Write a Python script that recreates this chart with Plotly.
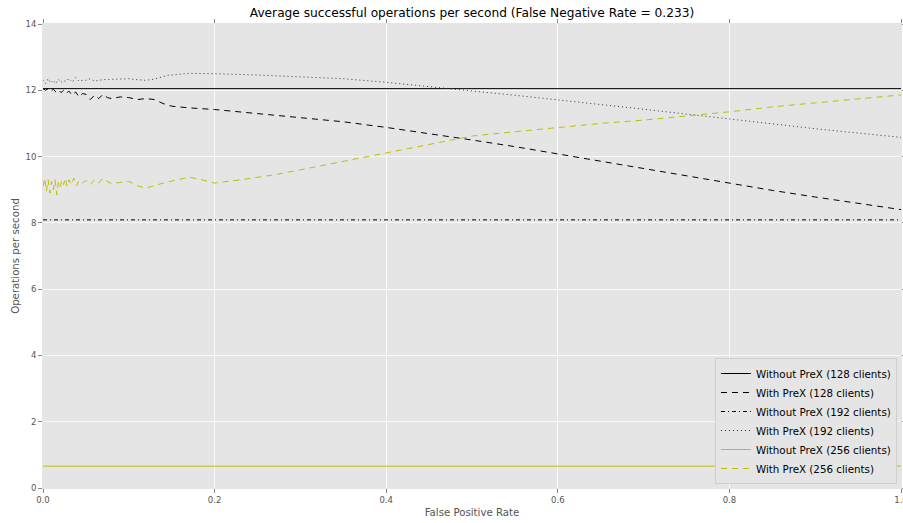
import plotly.graph_objects as go

title = "Average successful operations per second (False Negative Rate = 0.233)"

# Without PreX (constant levels)
x_const = [0.0, 1.0]
wo_128 = [12.05, 12.05]
wo_192 = [8.09, 8.09]
wo_256 = [0.66, 0.66]

# With PreX (128 clients)
x_p128 = [0.0, 0.003, 0.006, 0.009, 0.012, 0.015, 0.018, 0.021, 0.024, 0.027, 0.030, 0.034,
          0.038, 0.042, 0.046, 0.05, 0.055, 0.06, 0.065, 0.07, 0.075, 0.08, 0.09, 0.1, 0.11,
          0.12, 0.13, 0.14, 0.15, 0.17, 0.2, 0.25, 0.3, 0.35, 0.4, 0.45, 0.5, 0.55, 0.6, 0.65,
          0.7, 0.75, 0.8, 0.85, 0.9, 0.95, 1.0]
y_p128 = [12.05, 12.0, 12.05, 11.97, 12.03, 11.95, 12.02, 11.93, 12.0, 11.9, 11.98, 11.85,
          11.95, 11.8, 11.9, 11.88, 11.72, 11.85, 11.75, 11.88, 11.78, 11.75, 11.8, 11.78, 11.72,
          11.75, 11.72, 11.6, 11.52, 11.47, 11.42, 11.3, 11.18, 11.05, 10.88, 10.7, 10.5, 10.3,
          10.08, 9.85, 9.62, 9.42, 9.2, 8.98, 8.78, 8.58, 8.4]

# With PreX (192 clients)
x_p192 = [0.0, 0.003, 0.006, 0.009, 0.012, 0.015, 0.018, 0.021, 0.024, 0.027, 0.030, 0.034,
          0.038, 0.042, 0.046, 0.05, 0.055, 0.06, 0.07, 0.08, 0.09, 0.1, 0.11, 0.12, 0.13,
          0.145, 0.17, 0.2, 0.25, 0.3, 0.35, 0.4, 0.45, 0.5, 0.55, 0.6, 0.65, 0.7, 0.75, 0.8,
          0.85, 0.9, 0.95, 1.0]
y_p192 = [12.3, 12.2, 12.35, 12.22, 12.3, 12.2, 12.33, 12.24, 12.3, 12.26, 12.36, 12.25,
          12.38, 12.27, 12.3, 12.3, 12.35, 12.28, 12.32, 12.33, 12.36, 12.35, 12.32, 12.3, 12.34,
          12.45, 12.51, 12.5, 12.46, 12.41, 12.35, 12.24, 12.1, 11.98, 11.85, 11.72, 11.57,
          11.43, 11.28, 11.14, 10.99, 10.84, 10.71, 10.58]

# With PreX (256 clients)
x_p256 = [0.0, 0.002, 0.004, 0.006, 0.008, 0.010, 0.012, 0.014, 0.016, 0.018, 0.020, 0.022,
          0.024, 0.026, 0.028, 0.030, 0.033, 0.036, 0.039, 0.042, 0.046, 0.05, 0.055, 0.06,
          0.065, 0.07, 0.075, 0.08, 0.09, 0.1, 0.11, 0.12, 0.14, 0.155, 0.17, 0.185, 0.2,
          0.23, 0.27, 0.3, 0.33, 0.36, 0.4, 0.45, 0.5, 0.55, 0.6, 0.65, 0.7, 0.75, 0.8, 0.85,
          0.9, 0.95, 1.0]
y_p256 = [9.1, 9.35, 8.95, 9.3, 8.9, 9.25, 9.0, 9.3, 8.85, 9.25, 9.1, 9.3, 9.15, 9.35, 9.1,
          9.3, 9.15, 9.35, 9.12, 9.28, 9.2, 9.28, 9.15, 9.3, 9.2, 9.35, 9.25, 9.18, 9.22, 9.25,
          9.12, 9.05, 9.2, 9.3, 9.38, 9.3, 9.2, 9.3, 9.45, 9.6, 9.75, 9.9, 10.12, 10.35, 10.62,
          10.75, 10.88, 11.0, 11.1, 11.22, 11.35, 11.5, 11.62, 11.73, 11.86]

BLACK = "#000000"
YELLOW = "#bfbf00"

fig = go.Figure()
fig.add_trace(go.Scatter(x=x_const, y=wo_128, mode="lines", name="Without PreX (128 clients)",
                         line=dict(color=BLACK, width=1)))
fig.add_trace(go.Scatter(x=x_p128, y=y_p128, mode="lines", name="With PreX (128 clients)",
                         line=dict(color=BLACK, width=1, dash="6px,5px")))
fig.add_trace(go.Scatter(x=x_const, y=wo_192, mode="lines", name="Without PreX (192 clients)",
                         line=dict(color=BLACK, width=1, dash="4px,3px,1px,3px")))
fig.add_trace(go.Scatter(x=x_p192, y=y_p192, mode="lines", name="With PreX (192 clients)",
                         line=dict(color="#333333", width=1, dash="1px,3px")))
fig.add_trace(go.Scatter(x=x_const, y=wo_256, mode="lines", name="Without PreX (256 clients)",
                         line=dict(color=YELLOW, width=1)))
fig.add_trace(go.Scatter(x=x_p256, y=y_p256, mode="lines", name="With PreX (256 clients)",
                         line=dict(color=YELLOW, width=1, dash="6px,5px")))

axis_common = dict(
    showgrid=True, gridcolor="rgba(255,255,255,0.75)", gridwidth=0.8, zeroline=False,
    ticks="outside", ticklen=4, tickcolor="#888888", tickwidth=1,
    showline=True, linecolor="#E5E5E5", linewidth=1, mirror="ticks",
    tickfont=dict(family="DejaVu Sans", size=8.5, color="#555555"),
    automargin=False, ticklabeloverflow="allow",
)

fig.update_layout(
    width=903, height=523,
    margin=dict(l=43, r=2, t=24, b=35),
    paper_bgcolor="white", plot_bgcolor="#E5E5E5",
    font=dict(family="DejaVu Sans", color="#555555"),
    title=dict(text=title, x=0.5, xref="paper", xanchor="center", y=0.99, yanchor="top",
               pad=dict(t=3),
               font=dict(family="DejaVu Sans", size=12.2, color="#000000")),
    xaxis=dict(range=[0, 1], tickvals=[0, 0.2, 0.4, 0.6, 0.8, 1.0],
               ticktext=["0.0", "0.2", "0.4", "0.6", "0.8", "1.0"],
               title=dict(text="False Positive Rate", standoff=4,
                          font=dict(family="DejaVu Sans", size=10.2, color="#555555")),
               **axis_common),
    yaxis=dict(range=[0, 14], tickvals=[0, 2, 4, 6, 8, 10, 12, 14],
               title=dict(text="Operations per second", standoff=3,
                          font=dict(family="DejaVu Sans", size=10.2, color="#555555")),
               **axis_common),
    legend=dict(x=0.9953, y=0.0086, xanchor="right", yanchor="bottom",
                bgcolor="#E5E5E5", bordercolor="#D0D0D0", borderwidth=1,
                font=dict(family="DejaVu Sans", size=10.3, color="#000000"),
                tracegroupgap=0, itemwidth=30),
    showlegend=True,
)

fig.write_html("out.html")
